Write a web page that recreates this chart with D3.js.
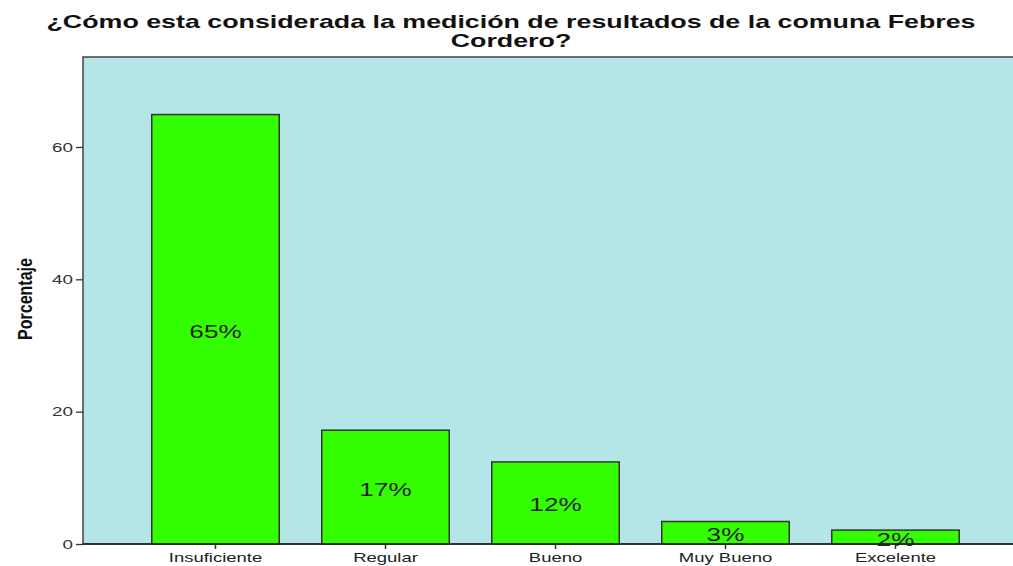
<!DOCTYPE html>
<html lang="es">
<head>
<meta charset="utf-8">
<script src="https://cdnjs.cloudflare.com/ajax/libs/d3/7.8.5/d3.min.js"></script>
<style>
  body { margin: 0; background: #fff; }
  svg { display: block; font-family: "Liberation Sans", Arial, sans-serif; }
</style>
</head>
<body>
<svg width="1013" height="566"></svg>
<script>
// datos
var categorias = ["Insuficiente", "Regular", "Bueno", "Muy Bueno", "Excelente"];
var porcentajes = [64.9, 17.2, 12.4, 3.4, 2.1];
var etiquetas = ["65%", "17%", "12%", "3%", "2%"];
var ticksY = [0, 20, 40, 60];

var svg = d3.select("svg");
var plot = { left: 83, top: 57, right: 1020, bottom: 544 };

// la imagen original esta estirada a lo ancho
function estirar(sel, k) {
    sel.each(function () {
        var w = this.getComputedTextLength();
        d3.select(this).attr("textLength", w * k).attr("lengthAdjust", "spacingAndGlyphs");
    });
}

var x = d3.scaleBand()
    .domain(categorias)
    .range([130.5, 980.5])
    .paddingInner(0.25)
    .paddingOuter(0.125);

var y = d3.scaleLinear()
    .domain([0, 73.6])
    .range([plot.bottom, plot.top]);

// fondo del area de grafico
svg.append("rect")
    .attr("x", plot.left)
    .attr("y", plot.top)
    .attr("width", plot.right - plot.left)
    .attr("height", plot.bottom - plot.top)
    .attr("fill", "#b4e6e8")
    .attr("stroke", "#444")
    .attr("stroke-width", 1.5);

// titulo
var titulo = svg.append("text")
    .attr("text-anchor", "middle")
    .attr("font-weight", "bold")
    .attr("font-size", 19)
    .attr("fill", "#111");
titulo.append("tspan").attr("x", 511).attr("y", 28)
    .text("¿Cómo esta considerada la medición de resultados de la comuna Febres");
titulo.append("tspan").attr("x", 511).attr("y", 47).text("Cordero?");
estirar(titulo.selectAll("tspan"), 1.41);

// barras
svg.append("g").selectAll("rect")
    .data(porcentajes)
    .enter()
    .append("rect")
    .attr("x", function (d, i) { return x(categorias[i]); })
    .attr("y", function (d) { return y(d); })
    .attr("width", x.bandwidth())
    .attr("height", function (d) { return y(0) - y(d); })
    .attr("fill", "#33ff00")
    .attr("stroke", "#333")
    .attr("stroke-width", 1.5);

// etiquetas de porcentaje
var etq = svg.append("g").selectAll("text")
    .data(porcentajes)
    .enter()
    .append("text")
    .attr("x", function (d, i) { return x(categorias[i]) + x.bandwidth() / 2; })
    .attr("y", function (d) { return (y(d) + y(0)) / 2; })
    .attr("dy", "0.47em")
    .attr("text-anchor", "middle")
    .attr("font-size", 18)
    .attr("fill", "#222")
    .text(function (d, i) { return etiquetas[i]; });
estirar(etq, 1.45);

// eje y
var ejeY = svg.append("g")
    .attr("transform", "translate(" + plot.left + ",0)")
    .call(d3.axisLeft(y).tickValues(ticksY).tickSize(7).tickPadding(3).tickFormat(d3.format("d")));
ejeY.select(".domain").remove();
ejeY.selectAll("line").attr("stroke", "#333").attr("stroke-width", 1.3);
ejeY.selectAll("text").attr("font-size", 13).attr("fill", "#333")
    .attr("font-family", "Liberation Sans, Arial, sans-serif");
estirar(ejeY.selectAll("text"), 1.45);

// eje x
var ejeX = svg.append("g")
    .attr("transform", "translate(0," + plot.bottom + ")")
    .call(d3.axisBottom(x).tickSize(5).tickPadding(4));
ejeX.select(".domain").remove();
ejeX.selectAll("line").attr("stroke", "#333").attr("stroke-width", 1.5);
ejeX.selectAll("text").attr("font-size", 13).attr("fill", "#222")
    .attr("font-family", "Liberation Sans, Arial, sans-serif");
estirar(ejeX.selectAll("text"), 1.42);

svg.append("line")
    .attr("x1", plot.left).attr("x2", plot.right)
    .attr("y1", plot.bottom).attr("y2", plot.bottom)
    .attr("stroke", "#222").attr("stroke-width", 1.5);

// titulo eje y (letra estrecha y alta)
svg.append("text")
    .attr("transform", "translate(32,299) rotate(-90)")
    .attr("text-anchor", "middle")
    .attr("font-weight", "bold")
    .attr("font-size", 21)
    .attr("textLength", 82)
    .attr("lengthAdjust", "spacingAndGlyphs")
    .attr("fill", "#111")
    .text("Porcentaje");
</script>
</body>
</html>
